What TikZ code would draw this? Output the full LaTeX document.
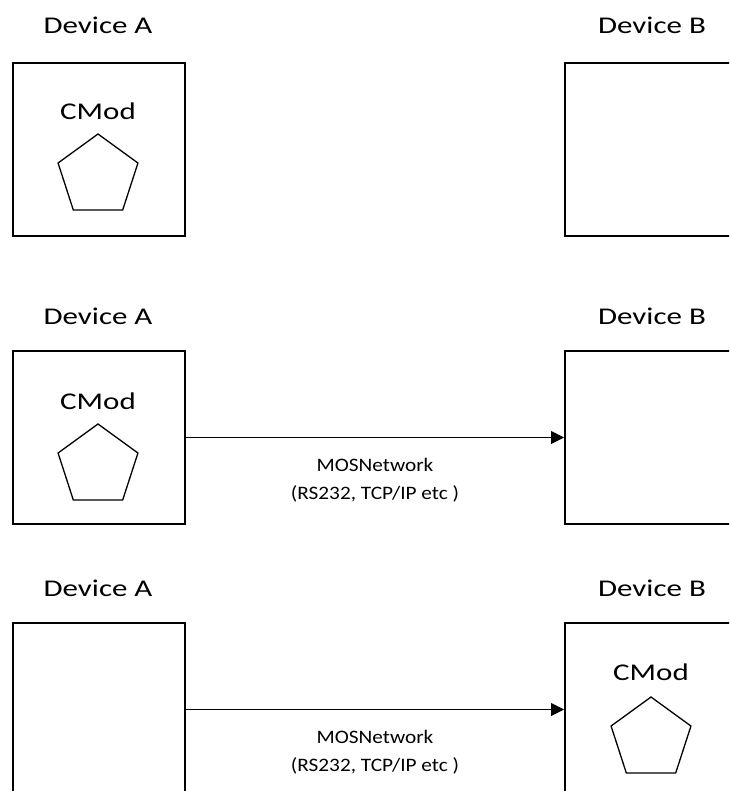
\documentclass[tikz,border=0pt]{standalone}
\usepackage{fontspec}
\setmainfont{Carlito}
\newfontfamily\bigf{Carlito}[FakeStretch=1.29]
\newfontfamily\smallf{Carlito}[FakeStretch=1.12]
\usetikzlibrary{arrows.meta,shapes.geometric}
\tikzset{
  devbox/.style={draw,line width=2pt,minimum width=172pt,minimum height=173pt,inner sep=0pt,anchor=north west},
  devlabel/.style={anchor=base,inner sep=0pt,font=\bigf\fontsize{24}{28}\selectfont},
  cmodlabel/.style={anchor=base,inner sep=0pt,font=\bigf\fontsize{24}{28}\selectfont},
  penta/.style={draw,regular polygon,regular polygon sides=5,minimum size=84pt,inner sep=0pt,line width=1.3pt},
  netarrow/.style={-{Triangle[length=13pt,width=13pt]},line width=1pt},
  netlabel/.style={align=center,inner sep=0pt,font=\smallf\fontsize{19}{28}\selectfont}
}
\begin{document}
\begin{tikzpicture}[x=1pt,y=-1pt]
\useasboundingbox (0,0) rectangle (729,791);
\clip (0,0) rectangle (729,791);
% Row 1
\node[devlabel] (la1) at (98,34) {Device A};
\node[devlabel] (lb1) at (652,34) {Device B};
\node[devbox] (a1) at (12,62) {};
\node[devbox] (b1) at (564,62) {};
\node[cmodlabel] (c1) at (98,120) {CMod};
\node[penta] (p1) at (98,176) {};
% Row 2
\node[devlabel] (la2) at (98,324) {Device A};
\node[devlabel] (lb2) at (652,324) {Device B};
\node[devbox] (a2) at (12,350) {};
\node[devbox] (b2) at (564,350) {};
\node[cmodlabel] (c2) at (98,409) {CMod};
\node[penta] (p2) at (98,466) {};
\draw[netarrow] (a2.east) -- (b2.west) node[netlabel,midway,below=20pt] (n2) {MOSNetwork\\(RS232, TCP/IP etc )};
% Row 3
\node[devlabel] (la3) at (98,596) {Device A};
\node[devlabel] (lb3) at (652,596) {Device B};
\node[devbox] (a3) at (12,622) {};
\node[devbox] (b3) at (564,622) {};
\node[cmodlabel] (c3) at (651,680) {CMod};
\node[penta] (p3) at (651,739) {};
\draw[netarrow] (a3.east) -- (b3.west) node[netlabel,midway,below=20pt] (n3) {MOSNetwork\\(RS232, TCP/IP etc )};
\end{tikzpicture}
\end{document}
